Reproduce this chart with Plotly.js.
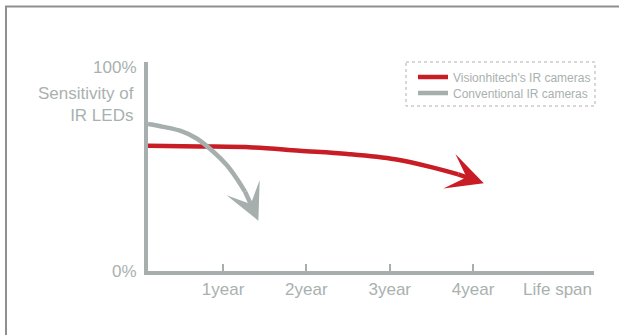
<!DOCTYPE html>
<html><head><meta charset="utf-8">
<script src="https://cdn.plot.ly/plotly-3.0.1.min.js"></script>
<style>html,body{margin:0;padding:0;background:#fff;}#chart{width:619px;height:335px;}</style>
</head><body><div id="chart"></div>
<script>
const seriesNames = ["Visionhitech's IR cameras", "Conventional IR cameras"];
const redX = [0.1, 0.724, 1.357, 1.918, 2.493, 3.062, 3.533, 3.821, 4.128];
const redY = [61.4, 61.1, 60.6, 59.0, 57.4, 54.8, 50.6, 47.4, 43.0];
const grayX = [0.1, 0.283, 0.484, 0.684, 0.884, 1.044, 1.164, 1.264, 1.424];
const grayY = [72.1, 70.7, 68.8, 65.0, 58.5, 52.0, 45.4, 38.9, 24.7];
const xTickVals = [1, 2, 3, 4];
const xTickText = ['1year', '2year', '3year', '4year'];
const yTickVals = [0, 100];
const yTickText = ['0%', '100%'];
const xEndLabel = 'Life span';
const yLabel = 'Sensitivity of<br>IR LEDs';

const RED = '#c81d25';
const GRAY = '#a6afad';
const TXT = '#a9b1af';
const FONT = 'Liberation Sans, Arial, sans-serif';

function curve(x, y, name, color, legendId) {
  const n = x.length;
  return {
    type: 'scatter', mode: 'lines', name: name, legend: legendId,
    x: x.slice(0, n - 1), y: y.slice(0, n - 1),
    line: {color: color, width: 4.5, shape: 'spline', smoothing: 1},
    hoverinfo: 'skip'
  };
}
function arrow(x, y, color) {
  const n = x.length;
  return {
    x: x[n - 1], y: y[n - 1], ax: x[n - 2], ay: y[n - 2],
    xref: 'x', yref: 'y', axref: 'x', ayref: 'y',
    showarrow: true, arrowhead: 3, arrowsize: 1.35, arrowwidth: 4.5,
    arrowcolor: color, standoff: 0, startstandoff: 0, text: '',
    borderpad: 0, borderwidth: 0, font: {size: 1}
  };
}

const data = [
  curve(redX, redY, seriesNames[0], RED, 'legend'),
  curve(grayX, grayY, seriesNames[1], GRAY, 'legend2')
];

const W = 619, H = 335, L = 148, R = 25, T = 62, B = 64;
const pw = W - L - R, ph = H - T - B;
const px = v => (v - L) / pw;
const py = v => (H - B - v) / ph;

function legendAt(yCenter) {
  return {
    x: px(413), y: py(yCenter), xanchor: 'left', yanchor: 'middle',
    bgcolor: 'rgba(0,0,0,0)', borderwidth: 0,
    font: {family: FONT, size: 12, color: TXT},
    itemclick: false, itemdoubleclick: false
  };
}

const layout = {
  width: W, height: H,
  margin: {l: L, r: R, t: T, b: B, pad: 0},
  paper_bgcolor: '#fff', plot_bgcolor: '#fff',
  font: {family: FONT, color: TXT, size: 17},
  showlegend: true,
  legend: legendAt(77),
  legend2: legendAt(93),
  xaxis: {
    range: [0.1, 5.45], showline: true, linecolor: GRAY, linewidth: 4,
    ticks: 'inside', ticklen: 7, tickwidth: 2, tickcolor: GRAY,
    tickvals: xTickVals, ticktext: xTickText,
    showgrid: false, zeroline: false, fixedrange: true,
    tickfont: {family: FONT, size: 17, color: TXT}
  },
  yaxis: {
    range: [0, 102.5], showline: true, linecolor: GRAY, linewidth: 4,
    ticks: '', tickvals: yTickVals, ticktext: yTickText, ticklabelstandoff: 4,
    showgrid: false, zeroline: false, fixedrange: true,
    tickfont: {family: FONT, size: 17, color: TXT}
  },
  shapes: [
    {type: 'rect', xref: 'paper', yref: 'paper',
     x0: px(6), x1: px(650), y0: py(6.5), y1: py(360),
     line: {color: '#8f8f8f', width: 2}, fillcolor: 'rgba(0,0,0,0)', layer: 'below'},
    {type: 'rect', xref: 'paper', yref: 'paper',
     x0: px(406), x1: px(595), y0: py(62), y1: py(106),
     line: {color: '#b0b0b0', width: 1, dash: '3px,3px'}, fillcolor: 'rgba(0,0,0,0)'}
  ],
  annotations: [
    arrow(redX, redY, RED),
    arrow(grayX, grayY, GRAY),
    {xref: 'paper', yref: 'paper', x: 1, y: py(289), xanchor: 'right', yanchor: 'middle',
     text: xEndLabel, showarrow: false, font: {family: FONT, size: 17, color: TXT}},
    {xref: 'paper', yref: 'paper', x: px(136), y: py(104), xanchor: 'right', yanchor: 'middle',
     align: 'right', text: yLabel, showarrow: false,
     font: {family: FONT, size: 17, color: TXT}}
  ]
};

Plotly.newPlot('chart', data, layout, {displayModeBar: false, staticPlot: true});
</script>
</body></html>
